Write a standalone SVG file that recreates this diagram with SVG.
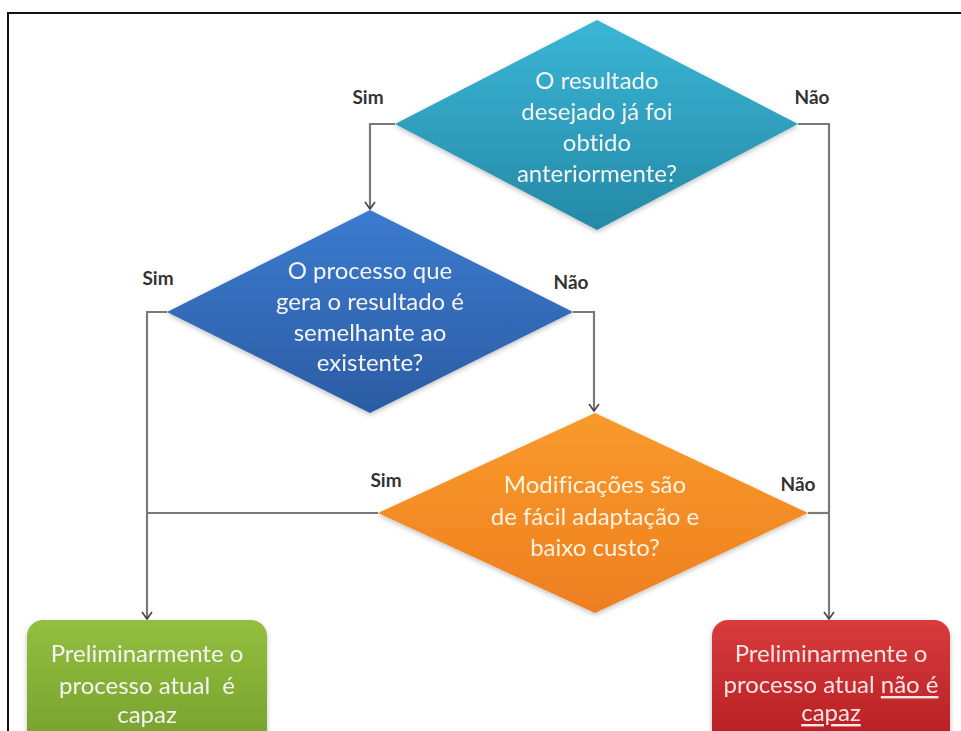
<svg xmlns="http://www.w3.org/2000/svg" width="961" height="731" viewBox="0 0 961 731">
  <defs>
    <linearGradient id="gTeal" x1="0" y1="0" x2="0" y2="1">
      <stop offset="0" stop-color="#3BB6D6"/>
      <stop offset="1" stop-color="#2489A6"/>
    </linearGradient>
    <linearGradient id="gBlue" x1="0" y1="0" x2="0" y2="1">
      <stop offset="0" stop-color="#3C7BCF"/>
      <stop offset="1" stop-color="#2B5CA3"/>
    </linearGradient>
    <linearGradient id="gOrange" x1="0" y1="0" x2="0" y2="1">
      <stop offset="0" stop-color="#F99A2C"/>
      <stop offset="1" stop-color="#EE7F1F"/>
    </linearGradient>
    <linearGradient id="gGreen" x1="0" y1="0" x2="0" y2="1">
      <stop offset="0" stop-color="#93BF3F"/>
      <stop offset="1" stop-color="#76A02C"/>
    </linearGradient>
    <linearGradient id="gRed" x1="0" y1="0" x2="0" y2="1">
      <stop offset="0" stop-color="#D93B3B"/>
      <stop offset="1" stop-color="#B31E23"/>
    </linearGradient>
    <filter id="soft" x="-10%" y="-10%" width="120%" height="125%">
      <feGaussianBlur in="SourceAlpha" stdDeviation="2.5"/>
      <feOffset dy="2" result="b"/>
      <feFlood flood-color="#000" flood-opacity="0.25"/>
      <feComposite in2="b" operator="in"/>
      <feMerge><feMergeNode/><feMergeNode in="SourceGraphic"/></feMerge>
    </filter>
    <!-- open chevron arrowhead, drawn pointing along +x so orient="auto" aligns it -->
    <marker id="arrow" viewBox="0 0 10 12" refX="9" refY="6" markerWidth="10" markerHeight="12" markerUnits="userSpaceOnUse" orient="auto">
      <path d="M2,1 L9,6 L2,11" fill="none" stroke="#444" stroke-width="1.6"/>
    </marker>
  </defs>
  <style>
    .frame { fill: none; stroke: #111; stroke-width: 2; }
    .conn { fill: none; stroke: #7A7A7A; stroke-width: 2.2; }
    .lbl { font-family: Lato, "Open Sans", sans-serif; font-weight: bold; font-size: 19px; fill: #333; text-anchor: middle; }
    .txt { font-family: Lato, "Open Sans", sans-serif; font-size: 24px; fill: #F4F4F4; text-anchor: middle; dominant-baseline: central; font-variant-ligatures: none; }
    .txtO { fill: #FFF3E2; }
    .txtR { fill: #FBE4E4; }
  </style>

  <rect width="961" height="731" fill="#FFFFFF"/>
  <!-- open page frame (top and left edges) -->
  <path class="frame" d="M961,13 H8 V731"/>

  <!-- connectors -->
  <g id="connectors">
    <path class="conn" d="M395,124 H370 V209" marker-end="url(#arrow)"/>
    <path class="conn" d="M798,124 H829 V619" marker-end="url(#arrow)"/>
    <path class="conn" d="M167,312 H147 V619" marker-end="url(#arrow)"/>
    <path class="conn" d="M573,312 H594 V411" marker-end="url(#arrow)"/>
    <path class="conn" d="M378,513 H147"/>
    <path class="conn" d="M808,513 H829"/>
    <text class="lbl" x="368" y="104">Sim</text>
    <text class="lbl" x="812" y="104">Não</text>
    <text class="lbl" x="158" y="285">Sim</text>
    <text class="lbl" x="571" y="289">Não</text>
    <text class="lbl" x="386" y="487">Sim</text>
    <text class="lbl" x="798" y="491">Não</text>
  </g>

  <g id="q1" filter="url(#soft)">
    <polygon points="597,20 798,124 597,230 395,124" fill="url(#gTeal)"/>
    <text class="txt" x="597"><tspan x="597" y="79">O resultado</tspan><tspan x="597" y="110">desejado já foi</tspan><tspan x="597" y="141">obtido</tspan><tspan x="597" y="172">anteriormente?</tspan></text>
  </g>

  <g id="q2" filter="url(#soft)">
    <polygon points="370,210 573,312 370,413 167,312" fill="url(#gBlue)"/>
    <text class="txt" x="370"><tspan x="370" y="269">O processo que</tspan><tspan x="370" y="300">gera o resultado é</tspan><tspan x="370" y="331">semelhante ao</tspan><tspan x="370" y="361">existente?</tspan></text>
  </g>

  <g id="q3" filter="url(#soft)">
    <polygon points="595,413 808,513 595,613 378,513" fill="url(#gOrange)"/>
    <text class="txt txtO" x="595"><tspan x="595" y="483">Modificações são</tspan><tspan x="595" y="515">de fácil adaptação e</tspan><tspan x="595" y="546">baixo custo?</tspan></text>
  </g>

  <g id="capable" filter="url(#soft)">
    <rect x="27" y="620" width="240" height="130" rx="16" fill="url(#gGreen)"/>
    <text class="txt" x="147" xml:space="preserve"><tspan x="147" y="652">Preliminarmente o</tspan><tspan x="147" y="684">processo atual  é</tspan><tspan x="147" y="713">capaz</tspan></text>
  </g>

  <g id="notCapable" filter="url(#soft)">
    <rect x="712" y="620" width="238" height="130" rx="16" fill="url(#gRed)"/>
    <text class="txt txtR" x="831"><tspan x="831" y="652">Preliminarmente o</tspan><tspan x="831" y="683">processo atual <tspan text-decoration="underline">não é</tspan></tspan><tspan x="831" y="711" text-decoration="underline">capaz</tspan></text>
  </g>
</svg>
